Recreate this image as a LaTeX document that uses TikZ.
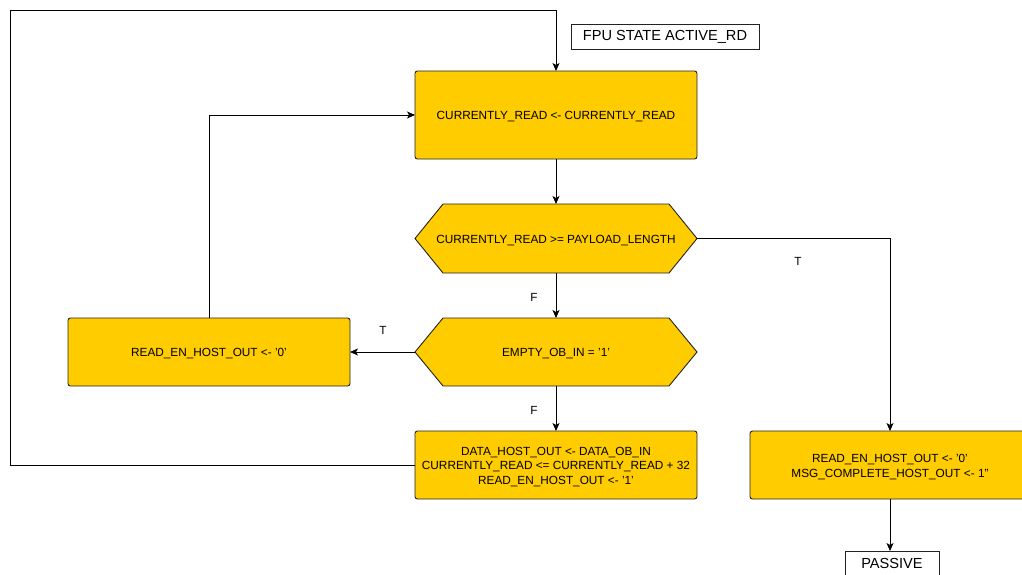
\documentclass[tikz,border=0pt]{standalone}
\usepackage{fontspec}
\setmainfont{Liberation Sans}
\usetikzlibrary{arrows.meta}
\definecolor{boxfill}{HTML}{FFCC00}
\definecolor{edge}{HTML}{222222}
\begin{document}
\begin{tikzpicture}[x=1pt,y=-1pt,
  every node/.style={font=\fontsize{11.8}{14.3}\selectfont, text=black},
  procbox/.style={draw=edge, fill=boxfill, rounded corners=2.5pt, line width=0.9pt,
     minimum width=282pt, minimum height=68pt, inner sep=0pt, outer sep=0pt},
  hexbox/.style={minimum width=282pt, minimum height=68pt, inner sep=0pt, outer sep=0pt},
  txt/.style={align=center, inner sep=0pt, yshift=-2pt},
  statebox/.style={draw=edge, fill=white, line width=0.9pt, inner sep=0pt, outer sep=0pt, minimum height=25pt, font=\fontsize{14.6}{17}\selectfont},
  conn/.style={draw=black, line width=0.9pt},
  arr/.style={conn, -{Stealth[length=8pt,width=7pt,inset=2pt]}},
  lbl/.style={inner sep=0pt}
]
\clip (0,0) rectangle (1022,574);
\fill[white] (0,0) rectangle (1022,574);

\node[statebox, minimum width=188pt, anchor=north west] (fpu) at (571,24) {FPU STATE ACTIVE\_RD};
\node[procbox, minimum height=88pt, anchor=north west] (r1) at (415,71) {};
\node[txt] (r1t) at (r1.center) {CURRENTLY\_READ <- CURRENTLY\_READ};

% hexagon 1
\node[hexbox, minimum height=69pt, anchor=north west] (h1) at (415,204) {};
\fill[boxfill, draw=edge, line width=0.9pt] (h1.west) -- ([xshift=28pt]h1.north west) -- ([xshift=-28pt]h1.north east) -- (h1.east) -- ([xshift=-28pt]h1.south east) -- ([xshift=28pt]h1.south west) -- cycle;
\node[txt] (h1t) at (h1.center) {CURRENTLY\_READ >= PAYLOAD\_LENGTH};

% hexagon 2
\node[hexbox, anchor=north west] (h2) at (415,318) {};
\fill[boxfill, draw=edge, line width=0.9pt] (h2.west) -- ([xshift=28pt]h2.north west) -- ([xshift=-28pt]h2.north east) -- (h2.east) -- ([xshift=-28pt]h2.south east) -- ([xshift=28pt]h2.south west) -- cycle;
\node[txt] (h2t) at (h2.center) {EMPTY\_OB\_IN = '1'};

\node[procbox, anchor=north west] (rl) at (68,318) {};
\node[txt] (rlt) at (rl.center) {READ\_EN\_HOST\_OUT <- '0'};
\node[procbox, anchor=north west] (rb) at (415,431) {};
\node[txt] (rbt) at (rb.center) {DATA\_HOST\_OUT <- DATA\_OB\_IN\\CURRENTLY\_READ <= CURRENTLY\_READ + 32\\READ\_EN\_HOST\_OUT <- '1'};
\node[procbox, minimum width=280pt, anchor=north west] (rr) at (750,431) {};
\node[txt] (rrt) at (rr.center) {READ\_EN\_HOST\_OUT <- '0'\\MSG\_COMPLETE\_HOST\_OUT <- 1''};
\node[statebox, minimum width=94pt, anchor=north west] (pas) at (845,551) {PASSIVE};

\coordinate (c2) at (10,10);

\draw[arr] (rb.west) -| (c2) -| (r1.north);
\draw[arr] (rl.north) |- (r1.west);
\draw[arr] (r1.south) -- (h1.north);
\draw[arr] (h1.east) -| (rr.north);
\draw[arr] (h1.south) -- (h2.north);
\draw[arr] (h2.west) -- (rl.east);
\draw[arr] (h2.south) -- (rb.north);
\draw[arr] (rr.south) -- (rr.south |- pas.north);

\node[lbl] (t1) at (798,261) {T};
\node[lbl] (f1) at (534,297) {F};
\node[lbl] (t2) at (383,330) {T};
\node[lbl] (f2) at (534,410) {F};
\end{tikzpicture}
\end{document}
